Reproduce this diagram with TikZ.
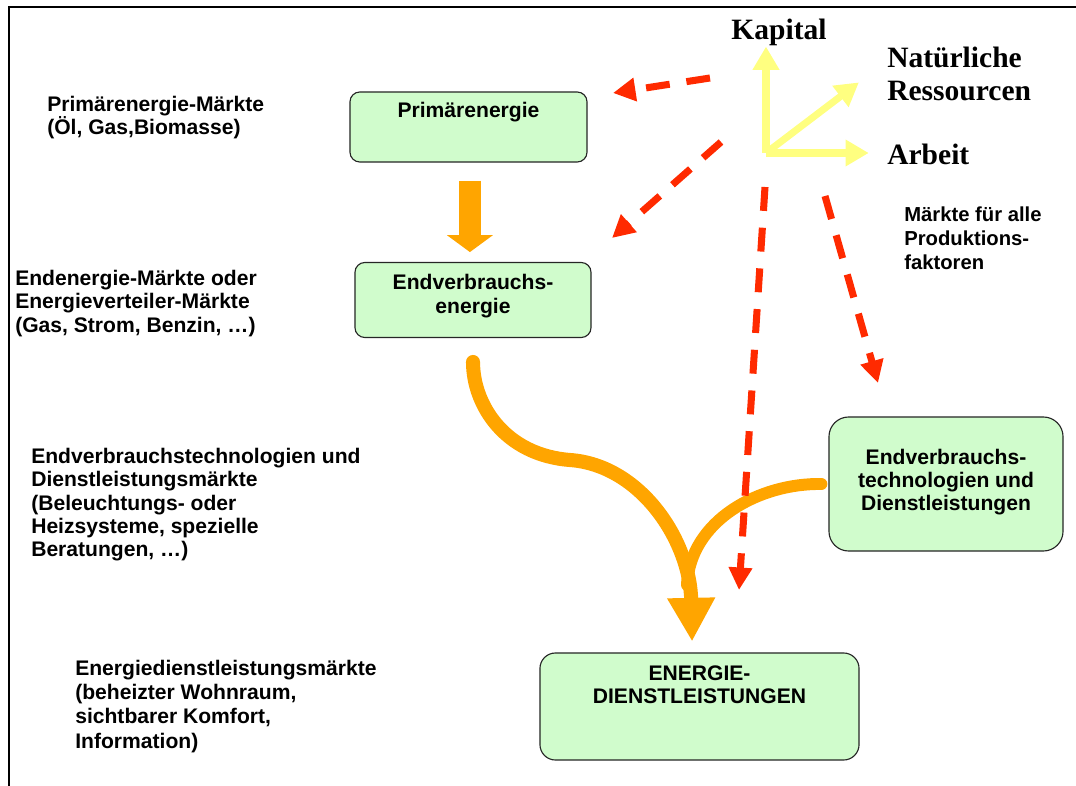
\documentclass[tikz,border=0pt]{standalone}
\usepackage{fontspec}
\setmainfont{Liberation Sans}
\newfontfamily\factorfont{Liberation Serif}
\usepackage{tikz}
\usetikzlibrary{arrows.meta, calc}
\definecolor{BoxGreen}{HTML}{D0FCCC}
\definecolor{FlowOrange}{HTML}{FFA500}
\definecolor{MarketRed}{HTML}{FF2A00}
\definecolor{FactorYellow}{HTML}{FFFF80}
\tikzset{
  energybox/.style={rectangle, rounded corners=7pt, draw=black!85, line width=0.8pt, fill=BoxGreen, inner sep=0pt},
  boxtext/.style={font=\fontsize{15}{16.6}\selectfont\bfseries, align=center, inner sep=0pt},
  markettext/.style={font=\fontsize{15}{16.6}\selectfont\bfseries, align=left, inner sep=0pt, anchor=north west},
  factortext/.style={font=\factorfont\fontsize{21}{23.5}\selectfont\bfseries, align=left, inner sep=0pt},
  flowarrow/.style={-{Triangle[length=12pt, width=32pt]}, FlowOrange, line width=15.6pt},
  flowcurve/.style={-{Triangle[length=31pt, width=32pt]}, FlowOrange, line width=10pt, line cap=round},
  flowbranch/.style={FlowOrange, line width=8.5pt, line cap=round},
  marketarrow/.style={-{Triangle[length=16pt, width=16pt]}, MarketRed, line width=5pt, dash pattern=on 17pt off 12pt},
  factorarrow/.style={-{Triangle[length=16.5pt, width=18pt]}, FactorYellow, line width=5pt},
  frameline/.style={black, line width=1.4pt}
}

\begin{document}
\begin{tikzpicture}[x=0.025cm, y=-0.025cm]
  \useasboundingbox (0,0) rectangle (1076,786);
  \draw[frameline] (9,786) -- (9,7) -- (1076,7);

  \node[energybox, minimum width=5.925cm, minimum height=1.75cm] (prim) at (468.5,127) {};
  \node[boxtext] at (468.5,112) {Primärenergie};

  \node[energybox, minimum width=5.9cm, minimum height=1.875cm] (endv) at (473,300) {};
  \node[boxtext] at (473,296) {Endverbrauchs-\\energie};

  \node[energybox, minimum width=5.85cm, minimum height=3.35cm, rounded corners=14pt] (tech) at (946,484) {};
  \node[boxtext] at (946,482) {Endverbrauchs-\\technologien und\\Dienstleistungen};

  \node[energybox, minimum width=7.975cm, minimum height=2.675cm, rounded corners=11pt] (serv) at (699.5,706.5) {};
  \node[boxtext] at (699.5,685) {ENERGIE-\\DIENSTLEISTUNGEN};

  \node[markettext] (primmkt) at (47,96) {Primärenergie-Märkte\\(Öl, Gas,Biomasse)};
  \node[markettext] (endmkt) at (15,270) {Endenergie-Märkte oder\\Energieverteiler-Märkte\\(Gas, Strom, Benzin, …)};
  \node[markettext] (techmkt) at (31,448) {Endverbrauchstechnologien und\\Dienstleistungsmärkte\\(Beleuchtungs- oder\\Heizsysteme, spezielle\\Beratungen, …)};
  \node[markettext, font=\fontsize{15}{17.2}\selectfont\bfseries] (servmkt) at (75,660) {Energiedienstleistungsmärkte\\(beheizter Wohnraum,\\sichtbarer Komfort,\\Information)};
  \node[markettext, font=\fontsize{14.4}{17}\selectfont\bfseries] (factormkt) at (904,207) {Märkte für alle\\Produktions-\\faktoren};

  \node[factortext, anchor=base] (kap) at (779,40) {Kapital};
  \node[factortext, anchor=west] (natres) at (887,74) {Natürliche\\Ressourcen};
  \node[factortext, anchor=base west] (arb) at (887,165) {Arbeit};

  \coordinate (axes) at (766,153);
  \draw[factorarrow] (axes) -- (axes |- kap.south);
  \draw[factorarrow] (axes) -- ([xshift=-20pt, yshift=-6pt]natres.west);
  \draw[factorarrow] (axes) -- ([xshift=-13pt]arb.west |- axes);

  \draw[flowarrow, shorten <=12.8pt, shorten >=7pt] ([xshift=1pt]prim.south) -- ([xshift=1pt]prim.south |- endv.north);
  \coordinate (join) at (687,585);
  \draw[flowbranch] ([xshift=-5pt]tech.west) .. controls (760,483) and (690,520) .. (join);
  \draw[flowcurve] ([yshift=-17pt]endv.south) .. controls (473,405) and (505,455) .. (570,460)
    .. controls (640,465) and (690,540) .. ([xshift=-5.3pt, yshift=7.8pt]serv.north);

  \coordinate (primfrom) at (710,78);
  \coordinate (primto) at (613,93);
  \coordinate (endfrom) at (721,142);
  \coordinate (endto) at (612,238);
  \coordinate (servfrom) at (765,187);
  \coordinate (servto) at (739,590);
  \coordinate (techfrom) at (825,196);
  \coordinate (techto) at (878,383);
  \draw[marketarrow] (primfrom) -- (primto);
  \draw[marketarrow] (endfrom) -- (endto);
  \draw[marketarrow] (servfrom) -- (servto);
  \draw[marketarrow] (techfrom) -- (techto);
\end{tikzpicture}
\end{document}
